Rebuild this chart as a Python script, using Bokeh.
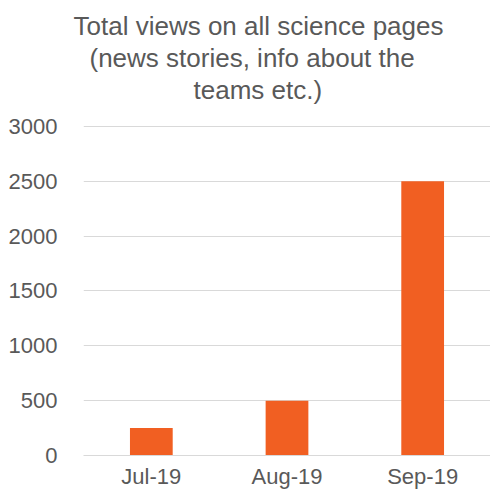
from bokeh.plotting import figure
from bokeh.models import FixedTicker, Title, Range1d, ColumnDataSource
from bokeh.embed import file_html
from bokeh.resources import INLINE

months = ["Jul-19", "Aug-19", "Sep-19"]
views = [250, 500, 2500]
y_ticks = [0, 500, 1000, 1500, 2000, 2500, 3000]
title_lines = ["Total views on all science pages", "(news stories, info about the", "teams etc.)"]

FONT = "Liberation Sans"
GREY = "#595959"

p = figure(x_range=months, y_range=Range1d(0, 3009), width=490, height=491,
           output_backend="svg", toolbar_location=None,
           min_border_left=83, min_border_right=0, min_border_bottom=30, min_border_top=125)

src = ColumnDataSource(dict(m=months, v=views))
p.vbar(x="m", top="v", width=0.315, source=src, color="#F15F22", line_color=None)

# spacer between the plot frame and the title block
p.add_layout(Title(text=" ", text_font=FONT, text_font_size="17px", standoff=0), "above")

offsets = [-10, 6, 110]
for t, off in reversed(list(zip(title_lines, offsets))):
    p.add_layout(Title(text=t, align="left", offset=off, standoff=0, text_font=FONT,
                       text_font_size="26px", text_color=GREY, text_font_style="normal"), "above")

p.outline_line_color = None
p.xgrid.grid_line_color = None
p.ygrid.grid_line_color = "#d9d9d9"
p.ygrid.grid_line_width = 1
p.yaxis.ticker = FixedTicker(ticks=y_ticks)
p.yaxis.axis_line_color = None
p.yaxis.major_tick_line_color = None
p.yaxis.minor_tick_line_color = None
p.yaxis.major_label_text_font = FONT
p.yaxis.major_label_text_font_size = "22px"
p.yaxis.major_label_text_color = GREY
p.yaxis.major_label_standoff = 20

p.xaxis.axis_line_color = "#d9d9d9"
p.xaxis.major_tick_line_color = None
p.xaxis.minor_tick_line_color = None
p.xaxis.major_label_text_font = FONT
p.xaxis.major_label_text_font_size = "22px"
p.xaxis.major_label_text_color = GREY
p.xaxis.major_label_standoff = 2
p.x_range.range_padding = 0

open("out.html", "w").write(file_html(p, INLINE))
